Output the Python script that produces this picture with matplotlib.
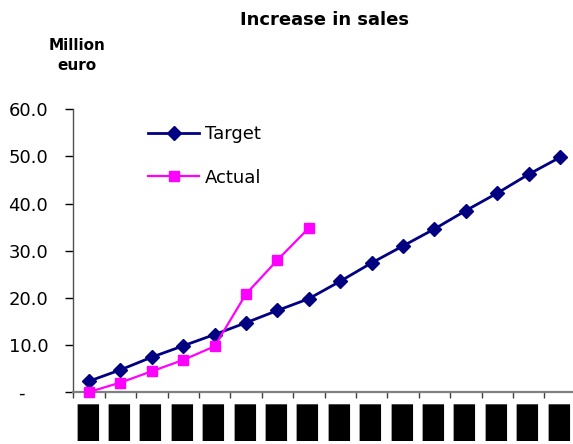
import matplotlib
matplotlib.use("Agg")
import matplotlib.pyplot as plt
from matplotlib.textpath import TextPath
from matplotlib.font_manager import FontProperties
from matplotlib.transforms import ScaledTranslation
import numpy as np

# ---- data ----
periods = [str(i) for i in range(1, 17)]
target = [2.3, 4.7, 7.4, 9.8, 12.2, 14.7, 17.3, 19.8, 23.5, 27.4, 31.0, 34.6, 38.5, 42.2, 46.2, 49.8]
actual = [0.0, 2.0, 4.4, 6.8, 9.7, 20.8, 28.0, 34.8]
ytick_values = [0, 10, 20, 30, 40, 50, 60]
ytick_labels = ["-\u2007\u2007", "10.0", "20.0", "30.0", "40.0", "50.0", "60.0"]

W, H = 573, 444
fig = plt.figure(figsize=(W / 100, H / 100), dpi=100)
plt.rcParams['font.family'] = ['DejaVu Sans']

# pick a block glyph whose ink shape best matches the reference boxes (19 x 37 px)
fp = FontProperties(family="DejaVu Sans")
best = None
for ch in ["\u25ae", "\u2588", "\u258c", "\u258a"]:
    try:
        v = TextPath((0, 0), ch, size=100, prop=fp).vertices
        w = v[:, 0].max() - v[:, 0].min()
        h = v[:, 1].max() - v[:, 1].min()
    except Exception:
        continue
    if w <= 0 or h <= 0:
        continue
    score = abs(np.log((w / h) / (19 / 37)))
    if best is None or score < best[0]:
        best = (score, ch, h)
_, block_char, ink_h = best
block_size_pt = 37 / (ink_h / 100) / (100 / 72)
block_labels = [block_char] * len(periods)

x0, x1 = 73.3, 575.7
y0, y1 = 392.0, 109.3
ax = fig.add_axes([x0 / W, 1 - y0 / H, (x1 - x0) / W, (y0 - y1) / H])

xt = np.arange(len(target))
xa = np.arange(len(actual))
ax.plot(xt, target, color="#000080", lw=2, marker="D", ms=7.5,
        mec="#000080", mfc="#000080", label="Target", clip_on=False, zorder=3)
ax.plot(xa, actual, color="#FF00FF", lw=1.6, marker="s", ms=7.5,
        mec="#FF00FF", mfc="#FF00FF", label="Actual", clip_on=False, zorder=4)

ax.set_xlim(-0.5, len(periods) - 0.5)
ax.set_ylim(0, 60)

ax.set_yticks(ytick_values)
ax.set_yticklabels(ytick_labels)
ax.tick_params(axis="y", direction="out", length=6, width=1, pad=12,
               labelsize=13, colors="black")

ax.set_xticks(xt)
ax.set_xticklabels(block_labels)
ax.set_xticks(np.arange(-0.5, len(periods) + 0.5, 1), minor=True)
ax.tick_params(axis="x", which="major", length=0, pad=9, labelsize=block_size_pt)
ax.tick_params(axis="x", which="minor", direction="out", length=4, width=1, color="#404040")

shift = ScaledTranslation(2 / 100, 0, fig.dpi_scale_trans)
for lab in ax.get_xticklabels():
    lab.set_transform(lab.get_transform() + shift)

for s in ["top", "right"]:
    ax.spines[s].set_visible(False)
ax.spines["left"].set_color("#505050")
ax.spines["bottom"].set_color("#808080")
ax.spines["left"].set_linewidth(1)
ax.spines["bottom"].set_linewidth(1.6)

fig.text(324.5 / W, 1 - 20 / H, "Increase in sales", ha="center", va="center",
         fontsize=13, fontweight="bold")
fig.text(77 / W, 1 - 45 / H, "Million", ha="center", va="center",
         fontsize=11, fontweight="bold")
fig.text(77 / W, 1 - 66 / H, "euro", ha="center", va="center",
         fontsize=11, fontweight="bold")

leg = fig.legend(loc="upper left", bbox_to_anchor=(148 / W, 1 - 125 / H),
                 frameon=False, fontsize=13, handlelength=2.85, handletextpad=0.3,
                 labelspacing=1.42, borderpad=0, borderaxespad=0)

fig.savefig("out.png", dpi=100)
